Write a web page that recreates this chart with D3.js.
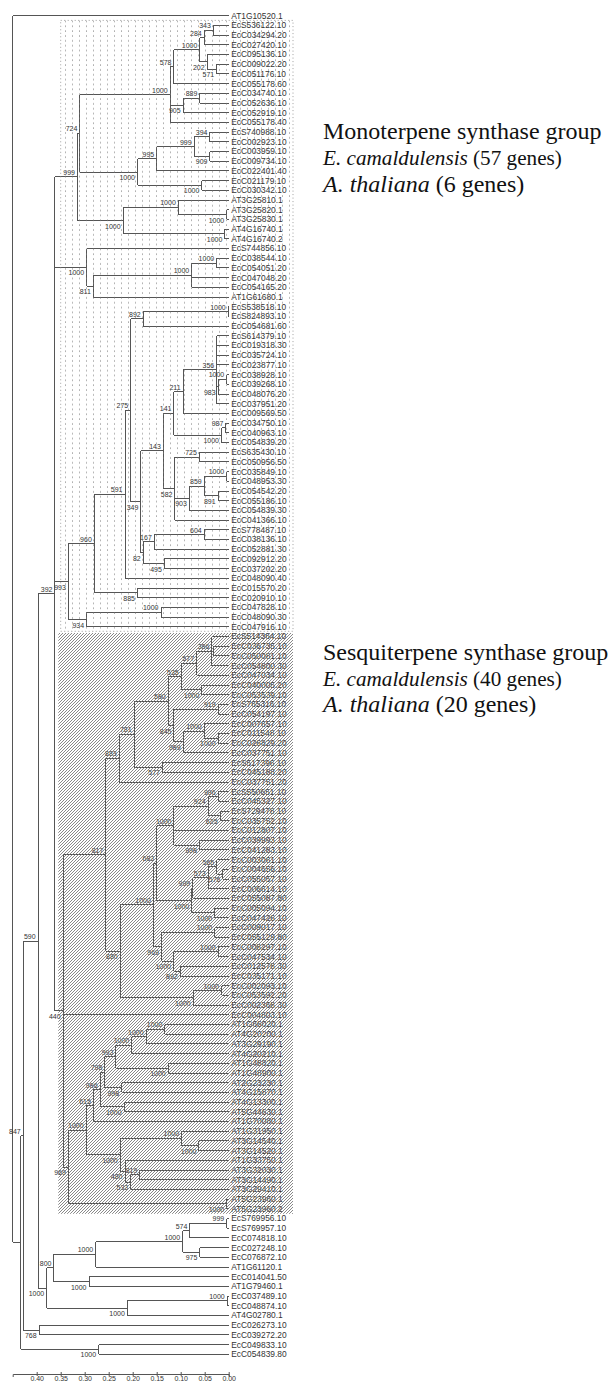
<!DOCTYPE html>
<html>
<head>
<meta charset="utf-8">
<script src="https://cdn.jsdelivr.net/npm/d3@7"></script>
<style>
  body { margin: 0; background: #fff; }
  svg { display: block; }
  .branch { fill: none; stroke: #555; stroke-width: 1; shape-rendering: crispEdges; }
  .leaf { font: 8.4px "Liberation Sans", Arial, sans-serif; fill: #333; }
  .boot { font: 7px "Liberation Sans", Arial, sans-serif; fill: #333; }
  .group { font-family: "Liberation Serif", "Times New Roman", serif; font-size: 24px; fill: #111; }
  .group.narrow { font-size: 21.2px; }
  .group .it { font-style: italic; }
  .axis text { font: 7px "Liberation Sans", Arial, sans-serif; fill: #333; }
  .axis path, .axis line { stroke: #555; }
</style>
</head>
<body>
<div id="chart"></div>
<script>
// leaf names, top to bottom
var leafNames = [
  "AT1G10520.1", "EcS536122.10", "EcC034294.20", "EcC027420.10", "EcC095136.10",
  "EcC009022.20", "EcC051176.10", "EcC055178.60", "EcC034740.10", "EcC052636.10",
  "EcC052919.10", "EcC055178.40", "EcS740988.10", "EcC002923.10", "EcC003959.10",
  "EcC009734.10", "EcC022401.40", "EcC021179.10", "EcC030342.10", "AT3G25810.1",
  "AT3G25820.1", "AT3G25830.1", "AT4G16740.1", "AT4G16740.2", "EcS744856.10",
  "EcC038544.10", "EcC054051.20", "EcC047048.20", "EcC054165.20", "AT1G61680.1",
  "EcS538518.10", "EcS824893.10", "EcC054681.60", "EcS614379.10", "EcC019318.30",
  "EcC035724.10", "EcC023877.10", "EcC038928.10", "EcC039268.10", "EcC048076.20",
  "EcC037951.20", "EcC009569.50", "EcC034750.10", "EcC040963.10", "EcC054839.20",
  "EcS635430.10", "EcC050956.50", "EcC035849.10", "EcC048953.30", "EcC054542.20",
  "EcC055186.10", "EcC054839.30", "EcC041366.10", "EcS778487.10", "EcC038136.10",
  "EcC052881.30", "EcC092912.20", "EcC037202.20", "EcC048090.40", "EcC015570.20",
  "EcC020910.10", "EcC047828.10", "EcC048090.30", "EcC047916.10", "EcS514364.10",
  "EcC036735.10", "EcC050081.10", "EcC054800.30", "EcC047034.10", "EcC040005.20",
  "EcC053539.10", "EcS765316.10", "EcC054197.10", "EcC007657.10", "EcC011548.10",
  "EcC026829.20", "EcC037751.10", "EcS517396.10", "EcC045188.20", "EcC037751.20",
  "EcS550651.10", "EcC045327.10", "EcS729478.10", "EcC035752.10", "EcC012807.10",
  "EcC039993.10", "EcC041283.10", "EcC003061.10", "EcC004656.10", "EcC055057.10",
  "EcC006614.10", "EcC055087.80", "EcC005094.10", "EcC047426.10", "EcC009017.10",
  "EcC055129.80", "EcC008297.10", "EcC047534.10", "EcC012578.30", "EcC035171.10",
  "EcC002093.10", "EcC053592.20", "EcC002368.30", "EcC004803.10", "AT1G66020.1",
  "AT4G20200.1", "AT3G29190.1", "AT4G20210.1", "AT1G48820.1", "AT1G48900.1",
  "AT2G23230.1", "AT4G15870.1", "AT4G13300.1", "AT5G44630.1", "AT1G70080.1",
  "AT1G31950.1", "AT3G14540.1", "AT3G14520.1", "AT1G33750.1", "AT3G32030.1",
  "AT3G14490.1", "AT3G29410.1", "AT5G23960.1", "AT5G23960.2", "EcS769956.10",
  "EcS769957.10", "EcC074818.10", "EcC027248.10", "EcC076872.10", "AT1G61120.1",
  "EcC014041.50", "AT1G79460.1", "EcC037489.10", "EcC048874.10", "AT4G02780.1",
  "EcC026273.10", "EcC039272.20", "EcC049833.10", "EcC054839.80"
];

// clades, newick style: a leaf is its number in leafNames (1 based),
// a node is (children)bootstrap:depth, depth = distance from the tips
var cladeMonoA = `
(
 (
  (
   (
    (
     ((2,3)343:0.032,4)284:0.051,
     (5,(6,7)571:0.025)202:0.045
    )1000:0.060,
    8
   )578:0.114,
   ((9,10)889:0.060,11)905:0.095,
   12
  )1000:0.122,
  (
   (
    ((13,14)394:0.039,(15,16)909:0.039)999:0.072,
    17
   )995:0.150,
   (18,19)1000:0.056
  )1000:0.190
 )724:0.310,
 (
  (20,(21,22)1000:0.004)1000:0.105,
  (23,24)1000:0.008
 )1000:0.220
)999:0.315`;

var cladeMonoB = `(25,(((26,27)1000:0.025,28,29)1000:0.077,30)811:0.282)1000:0.296`;

var cladeMonoC = `
(
 (
  (
   (
    ((31,32)1000:0.001,33)892:0.178,
    (
     (
      (
       (
        (34,35,36,37,((38,39)1000:0.004,40)983:0.022,41)356:0.025,
        42
       )211:0.095,
       ((43,44)987:0.006,45)1000:0.015
      )141:0.114,
      (
       (46,47)725:0.061,
       (((48,49)1000:0.004,(50,51)891:0.022)859:0.051,52)903:0.082,
       53
      )582:0.112
     )143:0.136,
     (
      ((54,55)604:0.051,56)167:0.155,
      (57,58)495:0.134
     )82:0.178
    )349:0.183
   )275:0.204,
   59
  )591:0.216,
  (60,61)885:0.190
 )960:0.280,
 ((62,63)1000:0.141,64)934:0.296
)993:0.334`;

var cladeSesquiEc = `
(
 (
  (
   (
    (
     ((65,(66,67):0.031,68)386:0.035,69)577:0.067,
     (70,71)1000:0.056
    )535:0.099,
    (
     (72,73)919:0.022,
     ((74,(75,76)1000:0.022)1000:0.051,77)989:0.095
    )845:0.114
   )580:0.126,
   (78,79)577:0.138
  )781:0.197,
  80
 )883:0.228,
 (
  (
   (
    (((81,82)996:0.022,(83,84)625:0.018)924:0.043,85,(86,87)998:0.061)1000:0.114,
    ((((88,(89,90)576:0.012)565:0.025,91)573:0.043,92)999:0.075,(93,94)1000:0.029)1000:0.077
   )683:0.150,
   ((95,96)1000:0.029,((97,98)1000:0.022,(99,100)892:0.101)1000:0.115)969:0.140
  )1000:0.157,
  ((101,102)1000:0.015,103)1000:0.074
 )880:0.226
)817:0.256`;

var cladeSesquiAt = `
(
 (
  (
   (
    (
     (
      (((105,106)1000:0.133,107)1000:0.172,108)1000:0.202,
      (109,110)1000:0.126
     )993:0.235,
     (111,112)998:0.223
    )798:0.258,
    (113,114)1000:0.218
   )986:0.268,
   115
  )615:0.282,
  (
   (116,(117,118)1000:0.062)1000:0.098,
   (119,((120,121)819:0.185,122)533:0.204)480:0.216
  )1000:0.226
 )1000:0.297,
 (123,124)1000:0.004
)969:0.334`;

var cladeOuter = `
(
 (
  (
   (((125,126)999:0.004,127)574:0.081,(128,129)975:0.060)1000:0.096,
   130
  )1000:0.277,
  (131,132)1000:0.291
 )800:0.364,
 ((133,134)1000:0.003,135)1000:0.211
)1000:0.379`;

var treeNewick = "(1,((((" + cladeMonoA + "," + cladeMonoB + "," + cladeMonoC +
  ",(" + cladeSesquiEc + ",104," + cladeSesquiAt + ")440:0.345)392:0.362," +
  cladeOuter + ")590:0.397,(136,137)768:0.395)847:0.428,(138,139)1000:0.271):0.433):0.45";

var axisTicks = [0.40, 0.35, 0.30, 0.25, 0.20, 0.15, 0.10, 0.05, 0.00];

// shaded groups: first and last leaf number
var groupNames = ["Monoterpene synthase group", "Sesquiterpene synthase group"];
var groupLeaves = [[2, 64], [65, 124]];
var eucGenes = [57, 40];
var athGenes = [6, 20];

function parseNewick(str) {
  var s = str.replace(/\s+/g, ""), i = 0;
  function read() {
    if (s[i] === "(") {
      i++;
      var kids = [];
      do { kids.push(read()); } while (s[i++] === ",");
      var m = /^(\d*):([\d.]+)/.exec(s.slice(i));
      i += m[0].length;
      return { children: kids, support: m[1], depth: +m[2] };
    }
    var n = /^\d+/.exec(s.slice(i))[0];
    i += n.length;
    return { name: leafNames[+n - 1], depth: 0 };
  }
  return read();
}

var W = 614, H = 1384;
var svg = d3.select("#chart").append("svg")
  .attr("width", W)
  .attr("height", H);

var x = d3.scaleLinear().domain([0.45, 0]).range([12.7, 228.7]);
var y = d3.scalePoint().domain(leafNames).range([15.7, 1354.3]);

var root = d3.hierarchy(parseNewick(treeNewick));
root.eachAfter(function(d) {
  d.x = x(d.data.depth);
  if (d.children) {
    d.y = (d.children[0].y + d.children[d.children.length - 1].y) / 2;
  } else {
    d.y = y(d.data.name);
  }
});

var tree = svg.append("g");

tree.selectAll(".hbranch")
  .data(root.descendants().slice(1))
  .enter().append("line")
  .attr("class", "branch hbranch")
  .attr("x1", function(d) { return d.parent.x; })
  .attr("x2", function(d) { return d.x; })
  .attr("y1", function(d) { return d.y; })
  .attr("y2", function(d) { return d.y; });

tree.selectAll(".vbranch")
  .data(root.descendants().filter(function(d) { return d.children; }))
  .enter().append("line")
  .attr("class", "branch vbranch")
  .attr("x1", function(d) { return d.x; })
  .attr("x2", function(d) { return d.x; })
  .attr("y1", function(d) { return d.children[0].y; })
  .attr("y2", function(d) { return d.children[d.children.length - 1].y; });

tree.selectAll(".leaf")
  .data(root.leaves())
  .enter().append("text")
  .attr("class", "leaf")
  .attr("x", x(0) + 2.5)
  .attr("y", function(d) { return d.y; })
  .attr("dy", "0.35em")
  .text(function(d) { return d.data.name; });

// bootstrap: above the branch for the first child, below for the others
tree.selectAll(".boot")
  .data(root.descendants().filter(function(d) { return d.parent && d.data.support; }))
  .enter().append("text")
  .attr("class", "boot")
  .attr("text-anchor", "end")
  .attr("x", function(d) { return d.x - 2.5; })
  .attr("y", function(d) { return d.parent.children[0] === d ? d.y - 2 : d.y + 8; })
  .text(function(d) { return d.data.support; });

// fills for the two groups, drawn over the tree like the original
var defs = svg.append("defs");
var dots = defs.append("pattern")
  .attr("id", "dots")
  .attr("patternUnits", "userSpaceOnUse")
  .attr("width", 7).attr("height", 4.85);
dots.append("rect").attr("x", 2).attr("y", 1.5).attr("width", 1).attr("height", 1).attr("fill", "#777");

var hatch = defs.append("pattern")
  .attr("id", "hatch")
  .attr("patternUnits", "userSpaceOnUse")
  .attr("width", 3).attr("height", 3);
hatch.append("path")
  .attr("d", "M0,3L3,0M-0.75,0.75L0.75,-0.75M2.25,3.75L3.75,2.25")
  .attr("stroke", "#6a6a6a")
  .attr("stroke-width", 0.8);

var boxRight = 293;
var monoTop = y(leafNames[groupLeaves[0][0] - 1]) - 5,
    monoBottom = y(leafNames[groupLeaves[0][1] - 1]) + 4.5,
    sesqTop = y(leafNames[groupLeaves[1][0] - 1]) - 3.5,
    sesqBottom = y(leafNames[groupLeaves[1][1] - 1]) + 5;

svg.append("rect")
  .attr("x", x(0.35)).attr("y", monoTop)
  .attr("width", boxRight - x(0.35)).attr("height", monoBottom - monoTop)
  .attr("fill", "url(#dots)")
  .attr("stroke", "#888").attr("stroke-width", 0.8)
  .attr("stroke-dasharray", "1 2.5");

svg.append("rect")
  .attr("x", x(0.355)).attr("y", sesqTop)
  .attr("width", boxRight - x(0.355)).attr("height", sesqBottom - sesqTop)
  .attr("fill", "url(#hatch)");

// group captions, three lines each
var captionX = 323;
var captionY = [[139, 165, 192], [660, 686, 712]];

groupNames.forEach(function(name, i) {
  svg.append("text").attr("class", "group")
    .attr("x", captionX).attr("y", captionY[i][0])
    .text(name);

  // the E. camaldulensis line is set a little narrower in the original
  var l2 = svg.append("text").attr("class", "group narrow")
    .attr("x", captionX).attr("y", captionY[i][1]);
  l2.append("tspan").attr("class", "it").text("E. camaldulensis");
  l2.append("tspan").text("\u00a0(" + eucGenes[i] + " genes)");

  var l3 = svg.append("text").attr("class", "group")
    .attr("x", captionX).attr("y", captionY[i][2]);
  l3.append("tspan").attr("class", "it").text("A. thaliana");
  l3.append("tspan").text("\u00a0(" + athGenes[i] + " genes)");
});

// scale bar
var axis = svg.append("g")
  .attr("class", "axis")
  .attr("transform", "translate(0,1374)")
  .call(d3.axisBottom(x)
    .tickValues(axisTicks)
    .tickFormat(d3.format(".2f"))
    .tickSizeOuter(0)
    .tickSize(3));
axis.selectAll(".tick line").attr("y1", -2).attr("y2", 2);
axis.selectAll(".tick text").attr("y", 2.5);
</script>
</body>
</html>
